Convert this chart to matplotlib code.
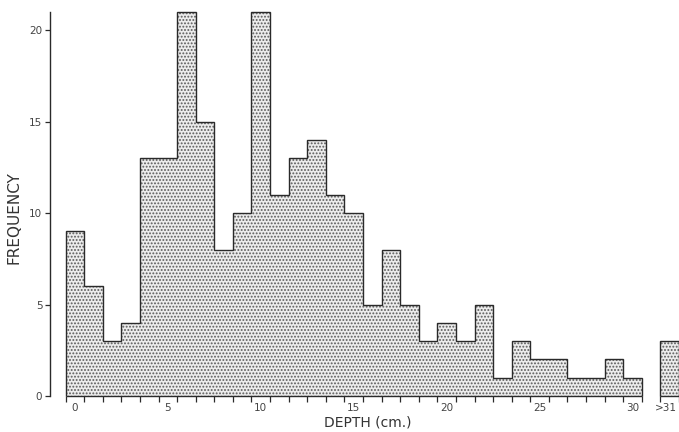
import numpy as np
import matplotlib
matplotlib.use("Agg")
import matplotlib.pyplot as plt

# depth classes 0..30 cm, plus the ">31" class drawn apart
depth = list(range(0, 31))
freq = [9, 6, 3, 4, 13, 13, 21, 15, 8, 10,
        21, 11, 13, 14, 11, 10, 5, 8, 5, 3,
        4, 3, 5, 1, 3, 2, 2, 1, 1, 2, 1]
over_label = ">31"
over_freq = 3
over_pos = 32

xtick_pos = [0, 5, 10, 15, 20, 25, 30]
ytick_pos = [0, 5, 10, 15, 20]

plt.rcParams["font.family"] = ["DejaVu Sans"]
plt.rcParams["hatch.color"] = "#5a5a5a"
plt.rcParams["hatch.linewidth"] = 0.9

fig = plt.figure(figsize=(6.79, 4.32), dpi=100)
ax = fig.add_axes([50 / 679, 1 - 396 / 432, 1 - 50 / 679, (396 - 12) / 432])

edges = np.arange(len(depth) + 1) - 0.5
line_col = "#2a2a2a"
fill_col = "#ececec"

# stippled fill + step outline
ax.stairs(freq, edges, fill=True, facecolor=fill_col, edgecolor="#5a5a5a",
          linewidth=0, hatch=".....", baseline=0)
ax.stairs(freq, edges, color=line_col, linewidth=1.0, baseline=0, clip_on=False)

ax.stairs([over_freq], [over_pos - 0.5, over_pos + 0.5], fill=True, facecolor=fill_col,
          edgecolor="#5a5a5a", linewidth=0, hatch=".....", baseline=0)
ax.stairs([over_freq], [over_pos - 0.5, over_pos + 0.5], color=line_col, linewidth=1.0,
          baseline=0, clip_on=False)

# baselines
ax.hlines(0, edges[0], edges[-1], color=line_col, linewidth=1.0, clip_on=False)
ax.hlines(0, over_pos - 0.5, over_pos + 0.5, color=line_col, linewidth=1.0, clip_on=False)

ax.set_xlim(-1.34, 32.45)
ax.set_ylim(0, 21)

for s in ["top", "right", "bottom"]:
    ax.spines[s].set_visible(False)
ax.spines["left"].set_color(line_col)
ax.spines["left"].set_linewidth(1.0)

# x: labels at class centres, tick marks at class edges
ax.set_xticks(xtick_pos + [over_pos - 0.2])
ax.set_xticklabels([str(v) for v in xtick_pos] + [over_label])
ax.set_xticks(list(edges) + [over_pos - 0.5, over_pos + 0.5], minor=True)
ax.tick_params(axis="x", which="major", length=0, pad=5, labelsize=7.5, labelcolor="#444")
ax.tick_params(axis="x", which="minor", length=4.5, width=0.9, color=line_col, direction="out")

ax.set_yticks(ytick_pos)
ax.tick_params(axis="y", length=3.5, width=0.9, color=line_col, pad=2,
               labelsize=7.5, labelcolor="#444")

fig.text(368 / 679, 1 - 422 / 432, "DEPTH (cm.)", ha="center", va="center",
         fontsize=10, color="#333")
fig.text(14 / 679, 1 - 218 / 432, "FREQUENCY", ha="center", va="center",
         rotation=90, fontsize=11, color="#333")

fig.savefig("out.png", dpi=100)
